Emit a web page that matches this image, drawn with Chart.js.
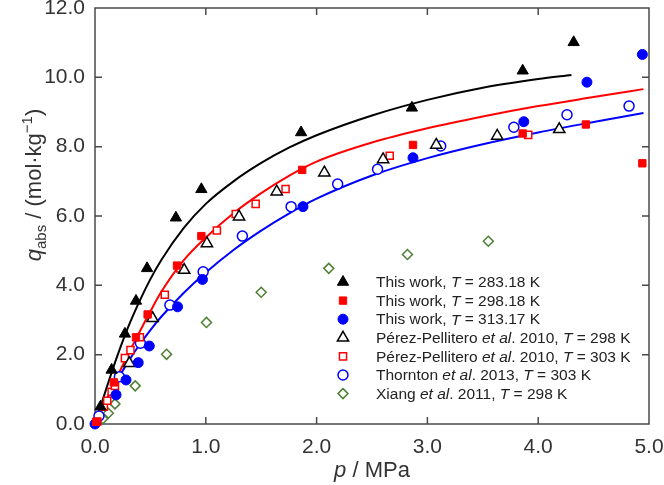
<!DOCTYPE html>
<html>
<head>
<meta charset="utf-8">
<script src="https://cdn.jsdelivr.net/npm/chart.js@4/dist/chart.umd.min.js"></script>
<style>
html, body { margin: 0; padding: 0; background: #fff; }
#wrap { width: 664px; height: 485px; }
</style>
</head>
<body>
<div id="wrap"><canvas id="c" width="664" height="485"></canvas></div>
<script>
// measured points, p in MPa, q in mol/kg
var p283 = [0.05, 0.15, 0.27, 0.37, 0.47, 0.73, 0.96, 1.86, 2.86, 3.86, 4.32];
var q283 = [0.50, 1.56, 2.60, 3.55, 4.49, 5.95, 6.77, 8.41, 9.12, 10.19, 11.01];
var p298 = [0.01, 0.17, 0.37, 0.475, 0.74, 0.96, 1.87, 2.87, 3.86, 4.43, 4.94];
var q298 = [0.06, 1.20, 2.50, 3.16, 4.57, 5.42, 7.33, 8.05, 8.38, 8.64, 7.52];
var p313 = [0.00, 0.19, 0.28, 0.39, 0.49, 0.745, 0.97, 1.877, 2.87, 3.87, 4.44, 4.94];
var q313 = [0.00, 0.84, 1.27, 1.77, 2.25, 3.38, 4.17, 6.27, 7.68, 8.72, 9.86, 10.66];
var pPP298 = [0.31, 0.52, 0.805, 1.01, 1.30, 1.64, 2.07, 2.60, 3.08, 3.63, 4.19];
var qPP298 = [1.75, 3.05, 4.44, 5.21, 5.98, 6.70, 7.25, 7.63, 8.05, 8.31, 8.50];
var pPP303 = [0.02, 0.08, 0.11, 0.15, 0.18, 0.27, 0.32, 0.405, 0.63, 0.77, 1.10, 1.27, 1.45, 1.72, 2.66, 3.91];
var qPP303 = [0.07, 0.50, 0.67, 0.93, 1.10, 1.90, 2.13, 2.50, 3.73, 4.49, 5.58, 6.06, 6.35, 6.78, 7.74, 8.34];
var pTh = [0.036, 0.22, 0.41, 0.676, 0.976, 1.33, 1.77, 2.19, 2.55, 3.12, 3.78, 4.26, 4.82];
var qTh = [0.23, 1.36, 2.33, 3.43, 4.39, 5.42, 6.27, 6.92, 7.35, 8.02, 8.56, 8.92, 9.17];
var pXi = [0.07, 0.12, 0.18, 0.363, 0.646, 1.006, 1.50, 2.11, 2.82, 3.55];
var qXi = [0.15, 0.31, 0.58, 1.10, 2.01, 2.93, 3.80, 4.49, 4.89, 5.27];

// fitted curves
var pFit283 = [0, 0.1, 0.2, 0.3, 0.4, 0.5, 0.6, 0.8, 1.0, 1.25, 1.5, 1.75, 2.0, 2.5, 3.0, 3.5, 4.0, 4.3];
var qFit283 = [0, 1.0, 1.95, 2.8, 3.53, 4.18, 4.74, 5.65, 6.35, 7.0, 7.53, 7.97, 8.33, 8.9, 9.35, 9.7, 9.95, 10.07];
var pFit298 = [0, 0.1, 0.2, 0.3, 0.4, 0.5, 0.6, 0.8, 1.0, 1.25, 1.5, 1.75, 2.0, 2.5, 3.0, 3.5, 4.0, 4.5, 4.95];
var qFit298 = [0, 0.68, 1.36, 2.02, 2.64, 3.25, 3.82, 4.72, 5.38, 6.08, 6.66, 7.16, 7.57, 8.12, 8.53, 8.87, 9.17, 9.43, 9.66];
var pFit313 = [0, 0.1, 0.2, 0.3, 0.4, 0.5, 0.6, 0.8, 1.0, 1.25, 1.5, 1.75, 2.0, 2.5, 3.0, 3.5, 4.0, 4.5, 4.95];
var qFit313 = [0, 0.66, 1.26, 1.80, 2.28, 2.71, 3.10, 3.78, 4.37, 5.02, 5.58, 6.07, 6.50, 7.17, 7.67, 8.07, 8.41, 8.71, 8.97];

var xTicks = [0, 1, 2, 3, 4, 5];
var yTicks = [0, 2, 4, 6, 8, 10, 12];

// legend text, [text, italic]
var legendLabels = [
  [["This work, ", 0], ["T", 1], [" = 283.18 K", 0]],
  [["This work, ", 0], ["T", 1], [" = 298.18 K", 0]],
  [["This work, ", 0], ["T", 1], [" = 313.17 K", 0]],
  [["Pérez-Pellitero ", 0], ["et al", 1], [". 2010, ", 0], ["T", 1], [" = 298 K", 0]],
  [["Pérez-Pellitero ", 0], ["et al", 1], [". 2010, ", 0], ["T", 1], [" = 303 K", 0]],
  [["Thornton ", 0], ["et al", 1], [". 2013, ", 0], ["T", 1], [" = 303 K", 0]],
  [["Xiang ", 0], ["et al", 1], [". 2011, ", 0], ["T", 1], [" = 298 K", 0]]
];

var FONT = "'Liberation Sans', Arial, sans-serif";
var GREEN = "#4e7f32";

function pts(ps, qs) {
  return ps.map(function(p, i) { return {x: p, y: qs[i]}; });
}

function curve(ps, qs, color) {
  return {
    type: "line", data: pts(ps, qs), borderColor: color, borderWidth: 2,
    pointRadius: 0, fill: false, cubicInterpolationMode: "monotone", order: 1
  };
}

function marks(ps, qs, style, r, fill, stroke, lw) {
  return {
    type: "scatter", data: pts(ps, qs), pointStyle: style, pointRadius: r,
    pointHoverRadius: r, backgroundColor: fill, borderColor: stroke,
    borderWidth: lw, clip: false, order: 0
  };
}

var markerSets = [
  marks(p283, q283, "triangle", 6.5, "#000", "#000", 1),
  marks(p298, q298, "rect", 5.2, "#f00", "#f00", 1),
  marks(p313, q313, "circle", 5, "#00f", "#00f", 1),
  marks(pPP298, qPP298, "triangle", 6.5, "#fff", "#000", 1.5),
  marks(pPP303, qPP303, "rect", 5, "#fff", "#f00", 1.5),
  marks(pTh, qTh, "circle", 5, "#fff", "#00f", 1.5),
  marks(pXi, qXi, "rectRot", 5, "#fff", GREEN, 1.5)
];

function drawMarker(ctx, ds, x, y) {
  var r = ds.pointRadius;
  ctx.save();
  ctx.beginPath();
  if (ds.pointStyle === "triangle") {
    ctx.moveTo(x, y - r);
    ctx.lineTo(x + r * 0.866, y + r / 2);
    ctx.lineTo(x - r * 0.866, y + r / 2);
    ctx.closePath();
  } else if (ds.pointStyle === "rect") {
    var s = r * Math.SQRT1_2;
    ctx.rect(x - s, y - s, 2 * s, 2 * s);
  } else if (ds.pointStyle === "rectRot") {
    ctx.moveTo(x - r, y); ctx.lineTo(x, y - r);
    ctx.lineTo(x + r, y); ctx.lineTo(x, y + r);
    ctx.closePath();
  } else {
    ctx.arc(x, y, r, 0, Math.PI * 2);
  }
  ctx.fillStyle = ds.backgroundColor;
  ctx.fill();
  ctx.lineWidth = ds.borderWidth;
  ctx.strokeStyle = ds.borderColor;
  ctx.stroke();
  ctx.restore();
}

// segments: [text, italic, size, dy]
function drawRich(ctx, segs, x, y, align) {
  var total = 0;
  segs.forEach(function(s) {
    ctx.font = (s[1] ? "italic " : "") + s[2] + "px " + FONT;
    total += ctx.measureText(s[0]).width;
  });
  var cx = align === "center" ? x - total / 2 : x;
  segs.forEach(function(s) {
    ctx.font = (s[1] ? "italic " : "") + s[2] + "px " + FONT;
    ctx.fillText(s[0], cx, y + (s[3] || 0));
    cx += ctx.measureText(s[0]).width;
  });
}

function noPad(s) {
  s.paddingTop = 0; s.paddingBottom = 0; s.paddingLeft = 0; s.paddingRight = 0;
}

var framePlugin = {
  id: "frame",
  beforeDatasetsDraw: function(chart) {
    var ctx = chart.ctx, a = chart.chartArea;
    var xs = chart.scales.x, ys = chart.scales.y;
    var tl = 7;
    ctx.save();
    ctx.strokeStyle = "#4a4a4a";
    ctx.lineWidth = 1.5;
    ctx.strokeRect(a.left, a.top, a.right - a.left, a.bottom - a.top);
    ctx.beginPath();
    xTicks.slice(1, -1).forEach(function(v) {
      var px = xs.getPixelForValue(v);
      ctx.moveTo(px, a.bottom); ctx.lineTo(px, a.bottom - tl);
      ctx.moveTo(px, a.top); ctx.lineTo(px, a.top + tl);
    });
    yTicks.slice(1, -1).forEach(function(v) {
      var py = ys.getPixelForValue(v);
      ctx.moveTo(a.left, py); ctx.lineTo(a.left + tl, py);
      ctx.moveTo(a.right, py); ctx.lineTo(a.right - tl, py);
    });
    ctx.stroke();
    ctx.restore();
  },
  afterDraw: function(chart) {
    var ctx = chart.ctx, a = chart.chartArea;
    ctx.save();
    ctx.fillStyle = "#333";
    ctx.textBaseline = "alphabetic";
    // x title
    drawRich(ctx, [["p", 1, 22], [" / MPa", 0, 22]], (a.left + a.right) / 2, 477, "center");
    // y title
    ctx.translate(41, 185);
    ctx.rotate(-Math.PI / 2);
    drawRich(ctx, [["q", 1, 22], ["abs", 0, 15, 5], [" / (mol·kg", 0, 22], ["\u22121", 0, 15, -9], [")", 0, 22]], 0, 0, "center");
    ctx.restore();

    // legend
    ctx.save();
    ctx.fillStyle = "#222";
    ctx.textBaseline = "middle";
    var mx = a.left + 248, tx = a.left + 281, y0 = a.top + 274, dy = 18.6;
    legendLabels.forEach(function(lab, i) {
      var y = y0 + i * dy;
      drawMarker(ctx, markerSets[i], mx, y);
      drawRich(ctx, lab.map(function(s) { return [s[0], s[1], 15.5]; }), tx, y + 1, "left");
    });
    ctx.restore();
  }
};

var datasets = [
  curve(pFit283, qFit283, "#000"),
  curve(pFit298, qFit298, "#f00"),
  curve(pFit313, qFit313, "#00f")
].concat(markerSets);

new Chart(document.getElementById("c"), {
  type: "scatter",
  data: { datasets: datasets },
  options: {
    responsive: false,
    animation: false,
    events: [],
    layout: { padding: { left: 0, right: 15, top: 8, bottom: 0 } },
    plugins: { legend: { display: false }, tooltip: { enabled: false } },
    scales: {
      x: {
        type: "linear", min: 0, max: 5,
        afterBuildTicks: function(s) { s.ticks = xTicks.map(function(v) { return {value: v}; }); },
        afterFit: function(s) { s.height = 61; noPad(s); },
        ticks: {
          font: { size: 21, family: FONT }, color: "#333", padding: 11,
          maxRotation: 0,
          callback: function(v) { return v.toFixed(1); }
        },
        grid: { display: false, drawTicks: false },
        border: { display: false }
      },
      y: {
        type: "linear", min: 0, max: 12,
        afterBuildTicks: function(s) { s.ticks = yTicks.map(function(v) { return {value: v}; }); },
        afterFit: function(s) { s.width = 95; noPad(s); },
        ticks: {
          font: { size: 21, family: FONT }, color: "#333", padding: 10,
          callback: function(v) { return v.toFixed(1); }
        },
        grid: { display: false, drawTicks: false },
        border: { display: false }
      }
    }
  },
  plugins: [framePlugin]
});
</script>
</body>
</html>
